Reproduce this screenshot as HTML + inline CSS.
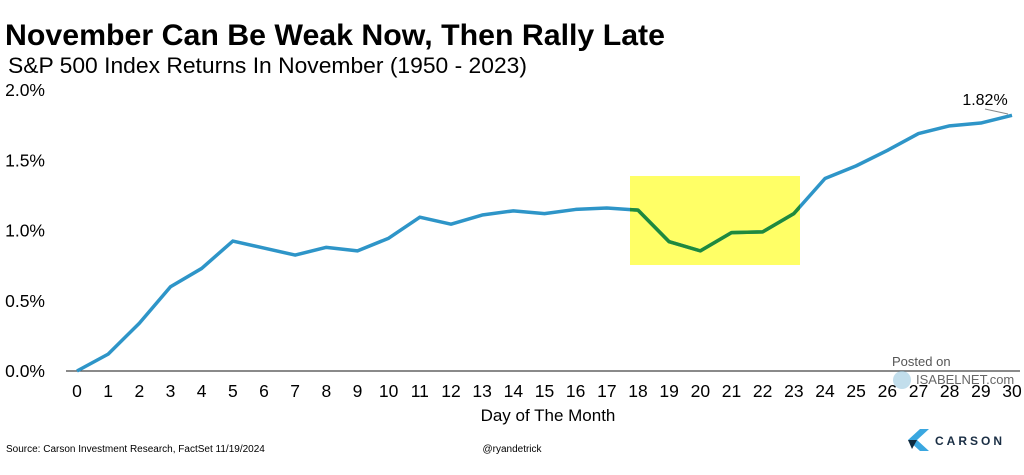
<!DOCTYPE html>
<html><head><meta charset="utf-8"><style>
body{margin:0;width:1024px;height:470px;background:#fff;overflow:hidden;font-family:"Liberation Sans",Arial,sans-serif}
svg text{font-family:"Liberation Sans",Arial,sans-serif}
</style></head><body>
<svg id="c" width="1024" height="470">
<text x="5" y="45" font-size="30" font-weight="bold" fill="#000" textLength="660" lengthAdjust="spacingAndGlyphs">November Can Be Weak Now, Then Rally Late</text>
<text x="8" y="73" font-size="22" fill="#000" textLength="519" lengthAdjust="spacingAndGlyphs">S&amp;P 500 Index Returns In November (1950 - 2023)</text>
<rect x="630" y="176" width="170" height="89" fill="#ffff66"/>
<line x1="66" y1="371" x2="1020" y2="371" stroke="#444" stroke-width="1.3"/>
<g id="yt"></g><g id="xt"></g>
<text x="548" y="421" font-size="17" text-anchor="middle">Day of The Month</text>
<defs><clipPath id="hc"><rect x="630" y="176" width="170" height="89"/></clipPath></defs>
<polyline id="ln" fill="none" stroke="#2e95c8" stroke-width="3.5" stroke-linejoin="round"/>
<polyline id="ln2" fill="none" stroke="#1f8a3c" stroke-width="3.5" stroke-linejoin="round" clip-path="url(#hc)"/>
<text x="985" y="105" font-size="16" text-anchor="middle">1.82%</text>
<line x1="985" y1="109" x2="1008" y2="114" stroke="#888" stroke-width="1"/>
<text x="892" y="366" font-size="13" fill="#555">Posted on</text>
<circle cx="902" cy="380" r="9" fill="#9ac8e0" opacity="0.6"/>
<text x="916" y="384" font-size="13" fill="#666">ISABELNET.com</text>
<text x="6" y="452" font-size="10">Source: Carson Investment Research, FactSet 11/19/2024</text>
<text x="512" y="452" font-size="10" text-anchor="middle">@ryandetrick</text>
<g>
<polygon points="920,429 929,429 917,440 929,451 920,451 908,440" fill="#3aa7e0"/>
<polygon points="908,440 917,440 912,449" fill="#0d2a3f"/>
<text x="935" y="445" font-size="12" font-weight="bold" letter-spacing="3" fill="#1a2e44">CARSON</text>
</g>
</svg>
<script>
const days=[0,1,2,3,4,5,6,7,8,9,10,11,12,13,14,15,16,17,18,19,20,21,22,23,24,25,26,27,28,29,30];
const returns=[0,0.12,0.34,0.60,0.73,0.925,0.875,0.825,0.88,0.855,0.945,1.095,1.045,1.11,1.14,1.12,1.15,1.16,1.145,0.92,0.855,0.985,0.99,1.12,1.37,1.46,1.57,1.69,1.745,1.765,1.82];
const yTicks=[0,0.5,1.0,1.5,2.0];
const yTickLabels=["0.0%","0.5%","1.0%","1.5%","2.0%"];
const X=d=>77+d*(935/30);
const Y=v=>371-v*140.5;
const NS="http://www.w3.org/2000/svg";
const yt=document.getElementById('yt'),xt=document.getElementById('xt');
yTicks.forEach((v,i)=>{const t=document.createElementNS(NS,'text');t.setAttribute('x',45);t.setAttribute('y',Y(v)+6);t.setAttribute('font-size','17.5');t.setAttribute('text-anchor','end');t.textContent=yTickLabels[i];


yt.appendChild(t);});
days.forEach(d=>{const t=document.createElementNS(NS,'text');t.setAttribute('x',X(d));t.setAttribute('y',397);t.setAttribute('font-size','17.5');t.setAttribute('text-anchor','middle');t.textContent=d;


xt.appendChild(t);});
const pts=days.map((d,i)=>X(d)+','+Y(returns[i])).join(' ');
document.getElementById('ln').setAttribute('points',pts);
document.getElementById('ln2').setAttribute('points',pts);
</script>
</body></html>
